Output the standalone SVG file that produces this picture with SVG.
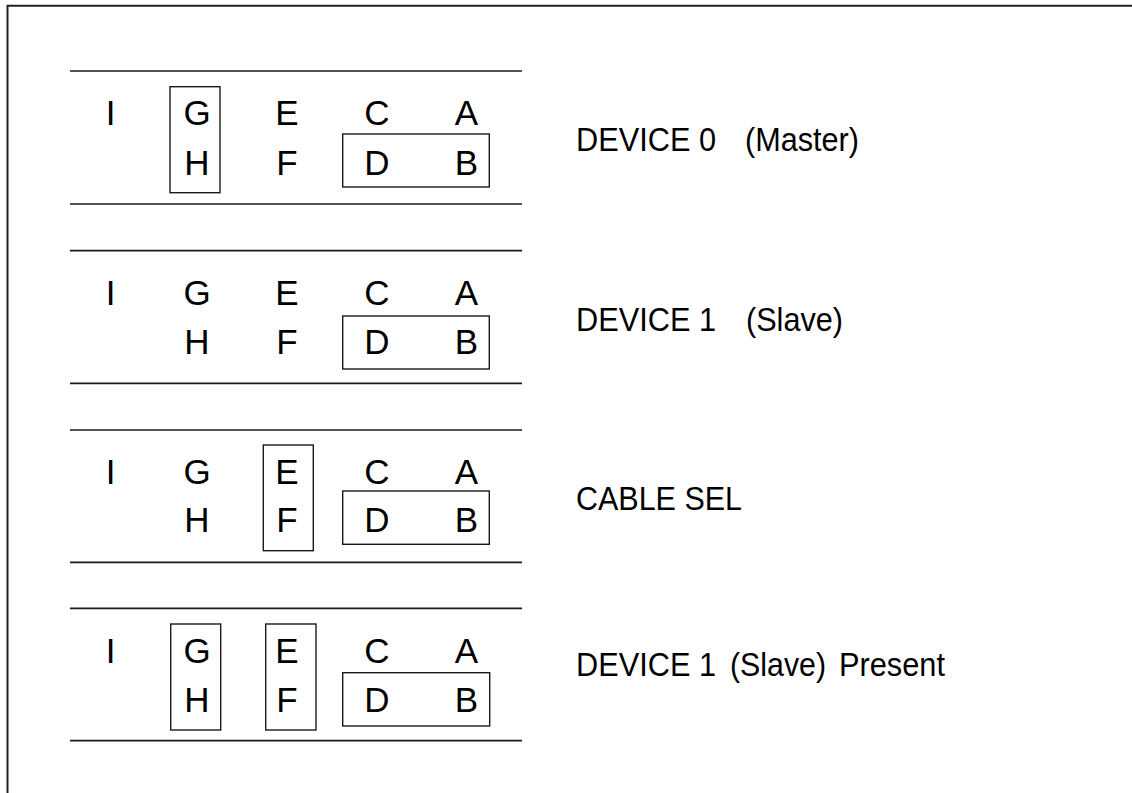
<svg xmlns="http://www.w3.org/2000/svg" width="1132" height="793" viewBox="0 0 1132 793">
<style>
.rule{stroke:#1a1a1a;stroke-width:1.7;fill:none}
.box{stroke:#1a1a1a;stroke-width:1.4;fill:none}
.pin{font-family:"Liberation Sans",Arial,sans-serif;font-size:35px;fill:#000;text-anchor:middle}
.lbl{font-family:"Liberation Sans",Arial,sans-serif;font-size:34px;fill:#000}
.frame{stroke:#222;stroke-width:2;fill:none}
</style>
<rect width="1132" height="793" fill="#fff"/>
<path class="frame" d="M7.5,793 V5.7 H1132"/>

<g id="device0">
<line class="rule" x1="70" y1="71" x2="522" y2="71"/>
<line class="rule" x1="70" y1="204" x2="522" y2="204"/>
<rect class="box" x="170" y="86.7" width="50" height="106"/>
<rect class="box" x="342.7" y="134" width="146.6" height="53"/>
<text class="pin" x="110.7" y="125">I</text>
<text class="pin" x="197" y="125">G</text>
<text class="pin" x="287" y="125">E</text>
<text class="pin" x="377" y="125">C</text>
<text class="pin" x="466.5" y="125">A</text>
<text class="pin" x="197" y="174.5">H</text>
<text class="pin" x="287" y="174.5">F</text>
<text class="pin" x="377" y="174.5">D</text>
<text class="pin" x="466.5" y="174.5">B</text>
<text class="lbl" y="150.7"><tspan x="576" textLength="140" lengthAdjust="spacingAndGlyphs">DEVICE 0</tspan><tspan x="745" textLength="114" lengthAdjust="spacingAndGlyphs">(Master)</tspan></text>
</g>

<g id="device1">
<line class="rule" x1="70" y1="250.7" x2="522" y2="250.7"/>
<line class="rule" x1="70" y1="383.3" x2="522" y2="383.3"/>
<rect class="box" x="342.7" y="316" width="146.6" height="53"/>
<text class="pin" x="110.7" y="305">I</text>
<text class="pin" x="197" y="305">G</text>
<text class="pin" x="287" y="305">E</text>
<text class="pin" x="377" y="305">C</text>
<text class="pin" x="466.5" y="305">A</text>
<text class="pin" x="197" y="353.5">H</text>
<text class="pin" x="287" y="353.5">F</text>
<text class="pin" x="377" y="353.5">D</text>
<text class="pin" x="466.5" y="353.5">B</text>
<text class="lbl" y="331"><tspan x="576" textLength="140" lengthAdjust="spacingAndGlyphs">DEVICE 1</tspan><tspan x="746" textLength="97" lengthAdjust="spacingAndGlyphs">(Slave)</tspan></text>
</g>

<g id="cablesel">
<line class="rule" x1="70" y1="430" x2="522" y2="430"/>
<line class="rule" x1="70" y1="562.3" x2="522" y2="562.3"/>
<rect class="box" x="263.3" y="445" width="50" height="105.7"/>
<rect class="box" x="342.7" y="491" width="146.6" height="53.3"/>
<text class="pin" x="110.7" y="483.5">I</text>
<text class="pin" x="197" y="483.5">G</text>
<text class="pin" x="287" y="483.5">E</text>
<text class="pin" x="377" y="483.5">C</text>
<text class="pin" x="466.5" y="483.5">A</text>
<text class="pin" x="197" y="532">H</text>
<text class="pin" x="287" y="532">F</text>
<text class="pin" x="377" y="532">D</text>
<text class="pin" x="466.5" y="532">B</text>
<text class="lbl" x="576" y="510" textLength="166" lengthAdjust="spacingAndGlyphs">CABLE SEL</text>
</g>

<g id="device1present">
<line class="rule" x1="70" y1="608.3" x2="522" y2="608.3"/>
<line class="rule" x1="70" y1="740.7" x2="522" y2="740.7"/>
<rect class="box" x="170.7" y="624" width="50" height="106"/>
<rect class="box" x="265.7" y="624" width="50.3" height="106"/>
<rect class="box" x="342.7" y="672.7" width="147" height="53.3"/>
<text class="pin" x="110.7" y="662.7">I</text>
<text class="pin" x="197" y="662.7">G</text>
<text class="pin" x="287" y="662.7">E</text>
<text class="pin" x="377" y="662.7">C</text>
<text class="pin" x="466.5" y="662.7">A</text>
<text class="pin" x="197" y="711.7">H</text>
<text class="pin" x="287" y="711.7">F</text>
<text class="pin" x="377" y="711.7">D</text>
<text class="pin" x="466.5" y="711.7">B</text>
<text class="lbl" y="675.7"><tspan x="576" textLength="140" lengthAdjust="spacingAndGlyphs">DEVICE 1</tspan><tspan x="730" textLength="96" lengthAdjust="spacingAndGlyphs">(Slave)</tspan><tspan x="839" textLength="106" lengthAdjust="spacingAndGlyphs">Present</tspan></text>
</g>
</svg>
